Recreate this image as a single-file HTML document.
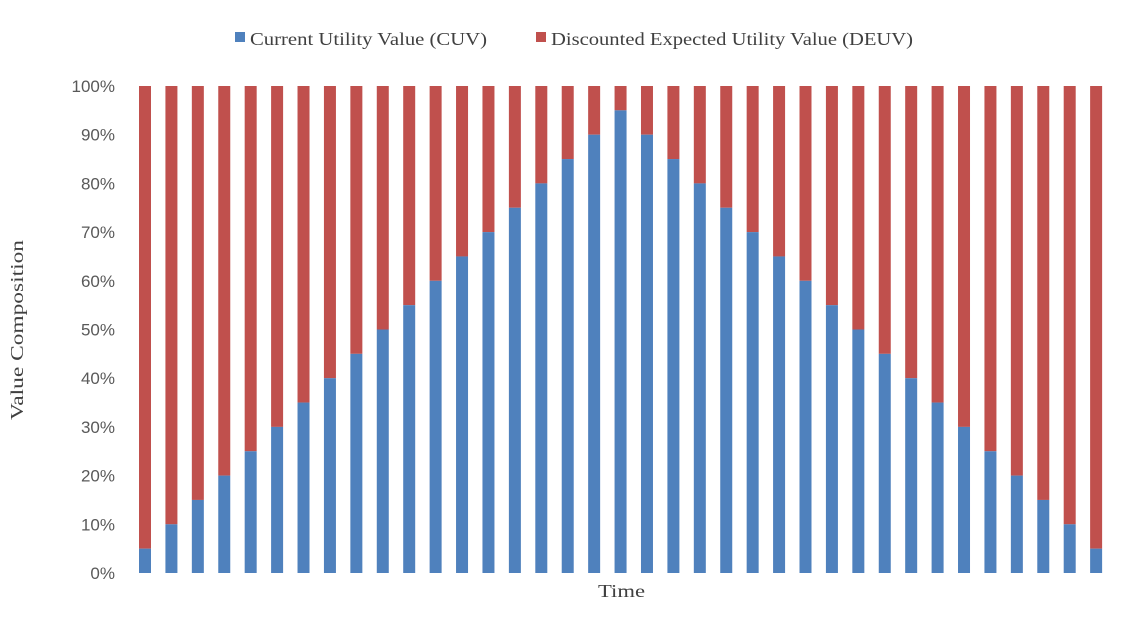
<!DOCTYPE html>
<html><head><meta charset="utf-8"><style>
body{margin:0;background:#fff;}
svg{display:block}
</style></head><body>
<svg width="1137" height="633" xmlns="http://www.w3.org/2000/svg">
<rect width="1137" height="633" fill="#fff"/>
<g font-family="Liberation Serif, serif" font-size="18" fill="#404040">
<rect x="235" y="32" width="10" height="10" fill="#4F81BD"/>
<text x="250" y="45" textLength="237" lengthAdjust="spacingAndGlyphs">Current Utility Value (CUV)</text>
<rect x="536" y="32" width="10" height="10" fill="#C0504D"/>
<text x="551" y="45" textLength="362" lengthAdjust="spacingAndGlyphs">Discounted Expected Utility Value (DEUV)</text>
<text x="598" y="597" textLength="47" lengthAdjust="spacingAndGlyphs">Time</text>
<text transform="translate(23,420) rotate(-90)" textLength="180" lengthAdjust="spacingAndGlyphs">Value Composition</text>
</g>
<g font-family="Liberation Sans, sans-serif" font-size="17" fill="#595959" text-anchor="end" id="ticks"></g>
<g id="bars"></g>
<script>
var t=document.getElementById('ticks'),b=document.getElementById('bars'),ns="http://www.w3.org/2000/svg";
for(var i=0;i<=10;i++){var y=573-i*48.7;var e=document.createElementNS(ns,'text');e.setAttribute('x',115);e.setAttribute('y',y+6);e.textContent=(i*10)+'%';t.appendChild(e);}
for(var k=0;k<37;k++){var v=k<=18?5+5*k:95-5*(k-18);var x=145+k*26.42-6;var h=v*4.87;
var r=document.createElementNS(ns,'rect');r.setAttribute('x',x);r.setAttribute('y',86);r.setAttribute('width',12);r.setAttribute('height',487-h);r.setAttribute('fill','#C0504D');b.appendChild(r);
var r2=document.createElementNS(ns,'rect');r2.setAttribute('x',x);r2.setAttribute('y',573-h);r2.setAttribute('width',12);r2.setAttribute('height',h);r2.setAttribute('fill','#4F81BD');b.appendChild(r2);}
</script>
</svg>
</body></html>
